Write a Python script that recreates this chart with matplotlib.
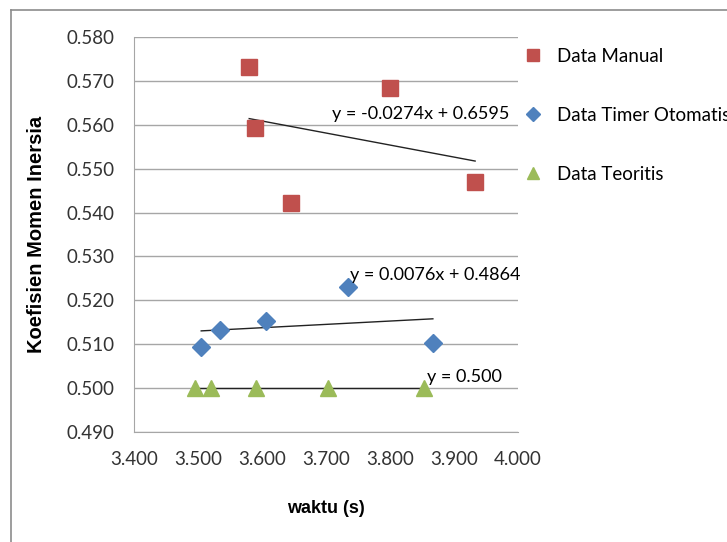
import matplotlib.pyplot as plt
from matplotlib.lines import Line2D

# data
manual_x = [3.580, 3.589, 3.800, 3.645, 3.933]
manual_y = [0.5731, 0.5592, 0.5683, 0.5422, 0.5470]

timer_x = [3.505, 3.534, 3.606, 3.735, 3.867]
timer_y = [0.5094, 0.5132, 0.5154, 0.5230, 0.5102]

teori_x = [3.496, 3.520, 3.590, 3.703, 3.853]
teori_y = [0.500, 0.500, 0.500, 0.500, 0.500]

# trendline coefficients (slope, intercept) as printed on the chart
manual_fit = (-0.0274, 0.6595)
timer_fit = (0.0076, 0.4864)
teori_fit = (0.0, 0.500)

plt.rcParams['font.family'] = ['Lato', 'DejaVu Sans']

fig = plt.figure(figsize=(7.27, 5.42), dpi=100)
ax = fig.add_axes([134 / 727, 1 - 432 / 542, (518 - 134) / 727, (432 - 37) / 542])

red = '#C0504D'
blue = '#4F81BD'
green = '#9BBB59'


def trend(ax, xs, fit):
    x0, x1 = min(xs), max(xs)
    m, b = fit
    ax.plot([x0, x1], [m * x0 + b, m * x1 + b], color='#222222', lw=1.0, zorder=2)


trend(ax, manual_x, manual_fit)
trend(ax, timer_x, timer_fit)
trend(ax, teori_x, teori_fit)

ax.plot(manual_x, manual_y, 's', color=red, ms=11, ls='none', label='Data Manual', zorder=3)
ax.plot(timer_x, timer_y, 'D', color=blue, ms=9.5, ls='none', label='Data Timer Otomatis', zorder=3)
ax.plot(teori_x, teori_y, '^', color=green, ms=12, ls='none', label='Data Teoritis', zorder=3)

ax.text(3.71, 0.5625, 'y = -0.0274x + 0.6595', fontsize=13, va='center', zorder=4)
ax.text(3.738, 0.5257, 'y = 0.0076x + 0.4864', fontsize=13, va='center', zorder=4)
ax.text(3.858, 0.5025, 'y = 0.500', fontsize=13, va='center', zorder=4)

ax.set_xlim(3.4, 4.0)
ax.set_ylim(0.49, 0.58)
ax.set_xticks([3.4 + 0.1 * i for i in range(7)])
ax.set_yticks([0.49 + 0.01 * i for i in range(10)])
ax.xaxis.set_major_formatter(plt.FormatStrFormatter('%.3f'))
ax.yaxis.set_major_formatter(plt.FormatStrFormatter('%.3f'))
ax.tick_params(labelsize=13.5, length=0, colors='#333333')
ax.tick_params(axis='y', pad=14)
ax.tick_params(axis='x', pad=14)
ax.yaxis.grid(True, color='#a6a6a6', lw=1.0)
ax.set_axisbelow(True)
for s in ['top', 'right']:
    ax.spines[s].set_visible(False)
for s in ['left', 'bottom']:
    ax.spines[s].set_color('#a6a6a6')

ax.set_xlabel('waktu (s)', fontsize=13, fontweight='bold', family='Liberation Sans')
ax.set_ylabel('Koefisien Momen Inersia', fontsize=14.5, fontweight='bold', family='Liberation Sans')
ax.xaxis.set_label_coords(0.5, -0.172)
ax.yaxis.set_label_coords(-0.228, 0.5)

handles = [
    Line2D([], [], marker='s', color=red, ls='none', ms=9),
    Line2D([], [], marker='D', color=blue, ls='none', ms=7),
    Line2D([], [], marker='^', color=green, ls='none', ms=9),
]
fig.legend(handles, ['Data Manual', 'Data Timer Otomatis', 'Data Teoritis'],
           loc='upper left', bbox_to_anchor=(514 / 727, 1 - 40 / 542),
           frameon=False, fontsize=13.5, labelspacing=2.25, handletextpad=0.67,
           handlelength=1.2, borderaxespad=0)

# outer chart-area border
fig.add_artist(Line2D([11 / 727, 11 / 727], [0, 1 - 10 / 542], color='#8c8c8c', lw=1.2,
                      transform=fig.transFigure))
fig.add_artist(Line2D([11 / 727, 1], [1 - 10 / 542, 1 - 10 / 542], color='#8c8c8c', lw=1.2,
                      transform=fig.transFigure))

fig.savefig('out.png', dpi=100)
